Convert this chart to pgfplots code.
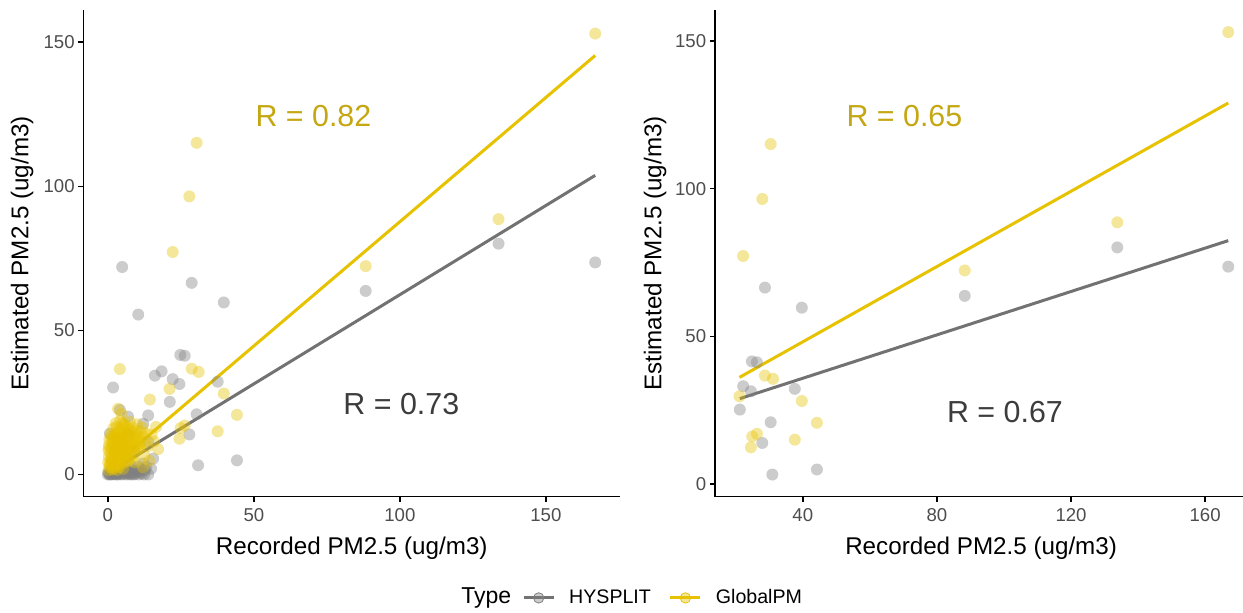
\documentclass[border=0pt]{standalone}
\usepackage{fontspec}
\setmainfont{Liberation Sans}
\usepackage{pgfplots}
\usepackage{pgfplotstable}
\pgfplotsset{compat=1.18}

\definecolor{gpcol}{HTML}{E6C200}
\definecolor{hycol}{HTML}{808080}
\definecolor{hyline}{HTML}{727272}
\definecolor{gptext}{HTML}{C4A712}
\definecolor{hytext}{HTML}{3C3C3C}
\definecolor{ticktext}{HTML}{4D4D4D}

% points with recorded PM2.5 >= 20 (shown in both panels)
\pgfplotstableread{
x y
21.1 29.7
22.2 77.2
24.5 12.4
24.9 16.1
26.3 17.0
27.9 96.5
28.7 36.7
30.4 115.1
31.1 35.6
37.6 15.0
39.7 28.1
44.2 20.7
88.3 72.3
133.8 88.6
166.9 153.0
}\gphi
\pgfplotstableread{
x y
21.2 25.2
22.2 33.1
24.5 31.4
24.8 41.5
26.3 41.2
27.9 13.9
28.7 66.5
30.4 20.9
30.9 3.2
37.6 32.2
39.7 59.7
44.2 4.9
88.3 63.7
133.8 80.1
166.9 73.6
}\hyhi
% points with recorded PM2.5 < 20 (left panel only)
\pgfplotstableread{
x y
4.1 36.6
3.5 22.8
14.4 26.0
4.7 21.0
16.5 16.5
15.8 11.5
17.2 8.8
0.2 1.5
0.9 2.4
1.6 1.8
2.4 2.9
3.1 1.6
4.0 2.6
5.2 2.0
0.1 4.2
0.7 3.6
1.3 4.8
2.0 4.0
2.8 4.6
3.5 3.8
4.4 4.9
5.6 4.1
6.8 4.5
0.3 6.1
1.0 5.5
1.8 6.6
2.6 5.8
3.4 6.9
4.3 5.6
5.3 6.4
6.4 5.9
7.5 6.7
8.6 6.0
0.2 8.3
0.9 7.6
1.7 8.8
2.5 7.9
3.5 8.5
4.5 7.3
5.6 8.9
6.7 7.8
7.9 8.4
9.1 7.5
10.3 8.6
0.4 10.2
1.3 9.4
2.2 10.6
3.1 9.8
4.1 10.9
5.2 9.6
6.3 10.4
7.4 9.3
8.6 10.8
9.8 9.9
11.0 10.5
0.5 12.1
1.5 11.6
2.6 12.8
3.7 11.9
4.8 12.6
5.9 11.4
7.1 12.9
8.3 11.8
9.6 12.3
10.9 12.7
1.0 14.0
2.2 13.4
3.4 14.6
4.6 13.7
5.8 14.9
7.1 13.5
8.4 14.3
9.8 13.9
11.3 14.8
1.8 15.9
3.0 16.6
4.3 15.4
5.6 16.9
7.0 15.7
8.5 16.2
2.7 17.8
4.2 18.6
5.8 17.5
7.5 18.3
10.0 17.4
12.5 6.5
13.6 9.8
15.0 13.8
11.8 16.3
9.3 4.2
14.2 4.8
12.0 2.5
0.6 3.0
1.4 5.2
2.2 6.9
3.0 8.9
3.8 10.3
4.6 11.8
5.4 13.1
6.2 14.4
7.0 11.2
7.8 9.6
8.8 12.9
9.6 15.2
10.6 11.6
11.8 13.1
2.0 11.3
1.1 13.0
2.9 14.0
4.0 15.9
5.0 17.6
3.4 4.8
4.9 7.0
6.0 8.2
6.9 9.7
0.4 9.2
1.6 10.3
2.6 9.0
3.6 12.4
4.8 14.4
6.5 16.5
8.0 15.0
9.0 10.2
10.8 9.1
12.4 11.0
13.0 14.3
2.1 2.2
3.9 3.4
5.6 5.3
7.2 5.2
}\gplo
\pgfplotstableread{
x y
0.0 0.0
0.4 0.3
0.8 0.1
1.2 0.6
1.6 0.2
2.0 1.0
2.4 0.4
2.8 0.0
3.2 1.2
3.6 0.5
4.0 0.1
4.5 1.6
5.0 0.7
5.5 0.2
6.0 1.4
6.5 0.4
7.0 1.1
7.5 0.0
8.0 1.8
8.5 0.6
9.0 1.3
9.5 0.2
10.0 1.0
10.4 2.7
11.0 0.9
11.6 0.3
12.1 3.8
12.8 1.5
13.8 0.0
14.8 2.0
15.5 5.5
0.2 0.8
0.6 0.0
1.0 1.2
1.4 0.0
1.8 0.7
2.2 0.1
2.6 1.5
3.0 0.3
3.4 0.0
3.8 0.9
4.2 0.4
4.8 0.0
5.2 1.1
5.8 0.8
6.3 0.0
6.8 0.6
7.3 0.3
7.8 0.9
8.3 0.1
8.8 0.0
9.3 0.8
10.6 0.0
11.3 1.8
12.4 0.0
13.2 2.6
1.5 4.0
2.5 8.0
3.2 12.0
5.0 10.0
6.0 6.0
7.0 14.0
8.0 3.0
9.0 8.0
13.8 11.3
12.1 17.6
6.9 20.1
13.8 20.5
4.1 22.4
0.7 14.2
1.8 30.2
16.1 34.3
18.4 35.8
10.4 55.5
4.9 72.0
}\hylo

\pgfplotsset{pmaxis/.style={
  scale only axis, anchor=south west,
  width=268.25pt, height=243.35pt,
  axis x line*=bottom, axis y line*=left,
  axis line style={line width=0.8pt, black},
  tick style={line width=0.8pt, black},
  tick align=outside, major tick length=2.5pt,
  ticklabel style={font=\fontsize{9.3}{10}\selectfont, text=ticktext},
  /pgf/number format/assume math mode=true,
  yticklabel style={xshift=1.6pt},
  xticklabel style={yshift=0pt},
  label style={font=\fontsize{12.1}{14}\selectfont},
  xlabel={Recorded PM2.5 (ug/m3)}, ylabel={Estimated PM2.5 (ug/m3)},
  xlabel style={at={(axis description cs:0.5,-0.1064)}, anchor=center},
  ylabel style={at={(axis description cs:-0.1146,0.5)}, anchor=center},
  ytick={0,50,100,150},
  hypts/.style={hycol, only marks, mark=*, mark size=3pt,
    mark options={draw opacity=0, fill opacity=0.4}},
  gppts/.style={gpcol, only marks, mark=*, mark size=3pt,
    mark options={draw opacity=0, fill opacity=0.4}},
}}

\begin{document}
\begin{tikzpicture}
\path[use as bounding box] (0,0) rectangle (621.5pt,306.5pt);

\begin{axis}[pmaxis, at={(41.75pt,58.15pt)},
  xmin=-8.35, xmax=175.4, ymin=-7.7, ymax=161.2,
  xtick={0,50,100,150},
  legend style={at={(axis description cs:0.817,-0.208)}, anchor=west, draw=none, fill=none,
    inner sep=0pt, font=\fontsize{9.8}{11}\selectfont, legend columns=2,
    /tikz/every odd column/.append style={column sep=5pt},
    /tikz/every even column/.append style={column sep=7pt}}]
\addplot[hypts, forget plot] table[x=x,y=y] {\hylo};
\addplot[hypts, forget plot] table[x=x,y=y] {\hyhi};
\addplot[gppts, forget plot] table[x=x,y=y] {\gplo};
\addplot[gppts, forget plot] table[x=x,y=y] {\gphi};
\addplot[hyline, line width=1.5pt, forget plot] coordinates {(0,0.5) (166.9,103.8)};
\addplot[gpcol, line width=1.5pt, forget plot] coordinates {(0,1.5) (166.9,145.4)};
\node[text=gptext, font=\fontsize{15.2}{17}\selectfont] at (axis cs:70.4,124.4) {R = 0.82};
\node[text=hytext, font=\fontsize{15.2}{17}\selectfont] at (axis cs:100.5,24.4) {R = 0.73};
\addlegendimage{legend image code/.code={
  \draw[hyline, line width=1.5pt] (0pt,0pt) -- (15pt,0pt);
  \fill[hycol, fill opacity=0.4] (7.5pt,0pt) circle (2.6pt);}}
\addlegendentry{HYSPLIT}
\addlegendimage{legend image code/.code={
  \draw[gpcol, line width=1.5pt] (0pt,0pt) -- (15pt,0pt);
  \fill[gpcol, fill opacity=0.4] (7.5pt,0pt) circle (2.6pt);}}
\addlegendentry{GlobalPM}
\end{axis}

\begin{axis}[pmaxis, at={(357.5pt,58.15pt)}, width=264pt,
  xmin=13.8, xmax=171.3, ymin=-4.3, ymax=160.5,
  xtick={40,80,120,160},
  xlabel style={at={(axis description cs:0.504,-0.1064)}},
  ylabel style={at={(axis description cs:-0.1136,0.5)}}]
\addplot[hypts] table[x=x,y=y] {\hyhi};
\addplot[gppts] table[x=x,y=y] {\gphi};
\addplot[hyline, line width=1.5pt] coordinates {(21.2,28.9) (166.9,82.4)};
\addplot[gpcol, line width=1.5pt] coordinates {(21.1,36.1) (166.9,129.0)};
\node[text=gptext, font=\fontsize{15.2}{17}\selectfont] at (axis cs:70.3,124.5) {R = 0.65};
\node[text=hytext, font=\fontsize{15.2}{17}\selectfont] at (axis cs:100.3,24.3) {R = 0.67};
\end{axis}

\node[anchor=west, inner sep=0pt, font=\fontsize{11.5}{13}\selectfont] at (230.5pt,7.5pt) {Type};
\end{tikzpicture}
\end{document}
